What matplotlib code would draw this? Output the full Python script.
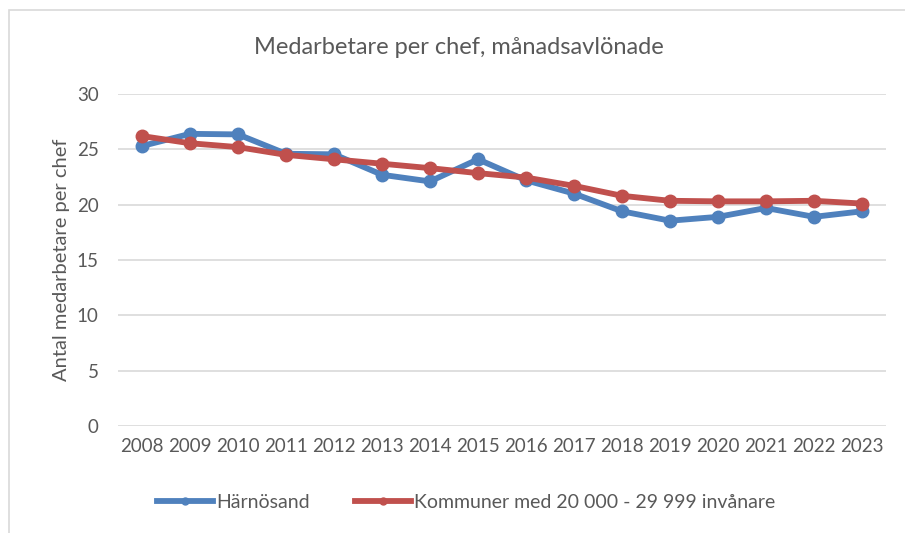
import matplotlib
matplotlib.use("Agg")
import matplotlib.pyplot as plt
from matplotlib.lines import Line2D
from matplotlib.patches import Rectangle

years = list(range(2008, 2024))
harnosand = [25.3, 26.4, 26.35, 24.6, 24.55, 22.7, 22.1, 24.1, 22.2, 21.0, 19.4, 18.55, 18.9, 19.7, 18.9, 19.4]
kommuner = [26.2, 25.55, 25.2, 24.5, 24.1, 23.7, 23.3, 22.85, 22.45, 21.7, 20.8, 20.35, 20.3, 20.3, 20.35, 20.1]
series_names = ["Härnösand", "Kommuner med 20 000 - 29 999 invånare"]
title = "Medarbetare per chef, månadsavlönade"
ylabel = "Antal medarbetare per chef"
yticks = [0, 5, 10, 15, 20, 25, 30]

plt.rcParams['font.family'] = ['Lato', 'DejaVu Sans']
txt = '#595959'
blue = '#4F81BD'
red = '#C0504D'

W, H = 905, 533
fig = plt.figure(figsize=(W/100, H/100), dpi=100)
fig.patches.append(Rectangle((9/W, -0.1), 1.2, 1.1 - 10/H, transform=fig.transFigure,
                             fill=False, edgecolor='#D9D9D9', linewidth=1.2))

ax = fig.add_axes([118/W, 1 - 426/H, (886-118)/W, (426-94)/H])
for s in ax.spines.values():
    s.set_visible(False)
ax.set_ylim(0, 30)
ax.set_xlim(2007.5, 2023.5)
ax.set_yticks(yticks)
ax.set_xticks(years)
ax.set_xticklabels([str(y) for y in years])
ax.yaxis.grid(True, color='#D9D9D9', linewidth=1.2)
ax.set_axisbelow(True)
ax.tick_params(length=0, labelsize=13.5, colors=txt, pad=9)
ax.tick_params(axis='y', pad=14)

ax.plot(years, harnosand, color=blue, lw=4.2, marker='o', ms=9, label=series_names[0],
        solid_joinstyle='round')
ax.plot(years, kommuner, color=red, lw=4.2, marker='o', ms=9, label=series_names[1],
        solid_joinstyle='round')

ax.set_ylabel(ylabel, fontsize=14.5, color=txt, labelpad=5)
fig.text(459/W, 1 - 47/H, title, ha='center', va='center', fontsize=17, color=txt)

handles = [Line2D([], [], color=blue, lw=4.2, marker='o', ms=5),
           Line2D([], [], color=red, lw=4.2, marker='o', ms=5)]
fig.legend(handles, series_names, loc='center', bbox_to_anchor=(466/W, 1 - 502/H),
           ncol=2, frameon=False, fontsize=14, labelcolor=txt, handlelength=2.9,
           handletextpad=0.15, columnspacing=2.3)

fig.savefig('out.png', dpi=100)
